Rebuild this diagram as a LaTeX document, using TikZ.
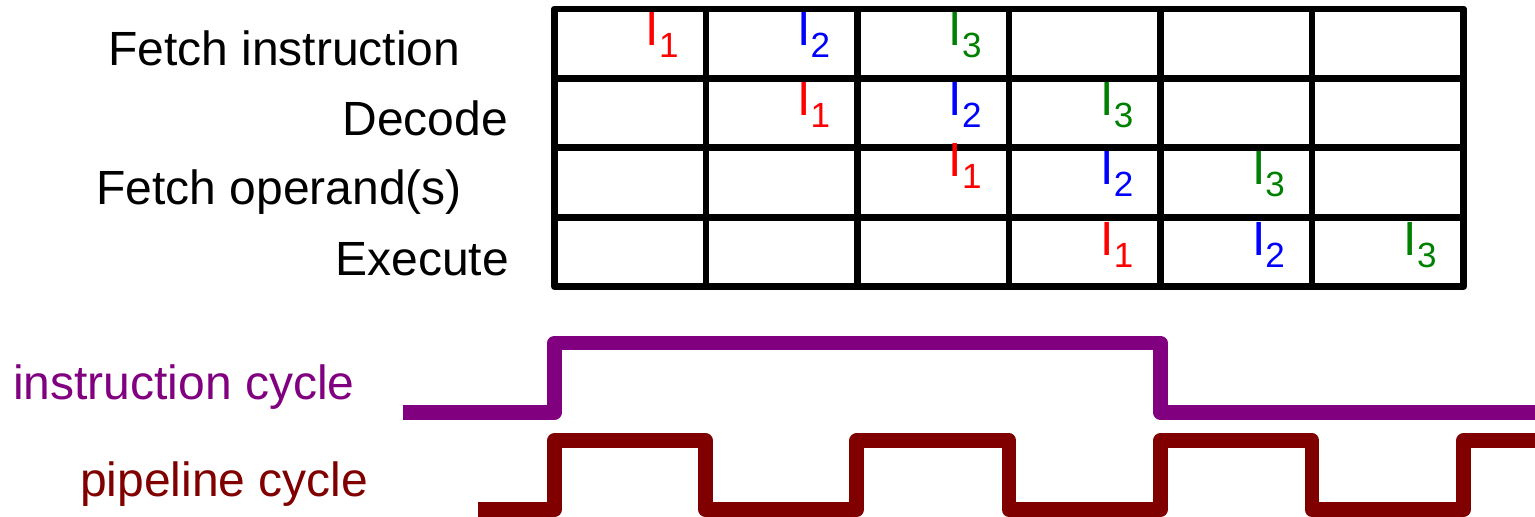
\documentclass[tikz,border=0pt]{standalone}
\usepackage{fontspec}
\setmainfont{Liberation Sans}
\definecolor{cpurple}{RGB}{128,0,128}
\definecolor{cdarkred}{RGB}{128,0,0}
\definecolor{cgreen}{RGB}{0,128,0}
\definecolor{cred}{RGB}{255,0,0}
\definecolor{cblue}{RGB}{0,0,255}
\newcommand\Ilab[1]{I\raisebox{-12pt}{\fontsize{35}{35}\selectfont #1}}
\begin{document}
\begin{tikzpicture}[x=1pt,y=-1pt,
  txt/.style={anchor=base west,inner sep=0pt,font=\fontsize{48}{48}\selectfont},
  gridline/.style={line width=6.7pt,line join=round},
  wave/.style={line width=14.5pt,line join=round}]
\useasboundingbox (0,0) rectangle (1535,517);
% table grid
\coordinate (tl) at (554.5,9);
\coordinate (br) at (1463.5,286.7);
\draw[gridline] (tl) rectangle (br);
\foreach \i in {1,...,5} \draw[gridline] ({554.5+151.5*\i},9) -- ({554.5+151.5*\i},286.7);
\foreach \j in {1,2,3} \draw[gridline] (554.5,{9+69.4*\j}) -- (1463.5,{9+69.4*\j});
% stage labels
\node[txt] (s1) at (108,65) {Fetch instruction};
\node[txt] (s2) at (342.2,135) {Decode};
\node[txt] (s3) at (96.1,204) {Fetch operand(s)};
\node[txt] (s4) at (335.4,275) {Execute};
% instruction labels
\node[txt,text=cred]   (r1a) at (645.5,45) {\Ilab{1}};
\node[txt,text=cblue]  (r1b) at (797.1,45) {\Ilab{2}};
\node[txt,text=cgreen] (r1c) at (948.7,45) {\Ilab{3}};
\node[txt,text=cred]   (r2a) at (797.1,115) {\Ilab{1}};
\node[txt,text=cblue]  (r2b) at (948.7,115) {\Ilab{2}};
\node[txt,text=cgreen] (r2c) at (1100.3,115) {\Ilab{3}};
\node[txt,text=cred]   (r3a) at (948.7,176.7) {\Ilab{1}};
\node[txt,text=cblue]  (r3b) at (1100.3,184.5) {\Ilab{2}};
\node[txt,text=cgreen] (r3c) at (1251.9,184.5) {\Ilab{3}};
\node[txt,text=cred]   (r4a) at (1100.3,255) {\Ilab{1}};
\node[txt,text=cblue]  (r4b) at (1251.9,255) {\Ilab{2}};
\node[txt,text=cgreen] (r4c) at (1403.5,255) {\Ilab{3}};
% cycle labels
\node[txt,text=cpurple]  (ic) at (12.8,399.3) {instruction cycle};
\node[txt,text=cdarkred] (pc) at (80,496.7) {pipeline cycle};
% waveforms
\draw[wave,cpurple] (402.6,412.5) -- (554.5,412.5) -- (554.5,343) -- (1160.4,343)
  -- (1160.4,412.5) -- (1545,412.5);
\draw[wave,cdarkred] (478,509.7) -- (554.5,509.7) -- (554.5,440.5) -- (705.5,440.5)
  -- (705.5,509.7) -- (856.7,509.7) -- (856.7,440.5) -- (1009,440.5)
  -- (1009,509.7) -- (1160.4,509.7) -- (1160.4,440.5) -- (1312,440.5)
  -- (1312,509.7) -- (1463.5,509.7) -- (1463.5,440.5) -- (1545,440.5);
\end{tikzpicture}
\end{document}
